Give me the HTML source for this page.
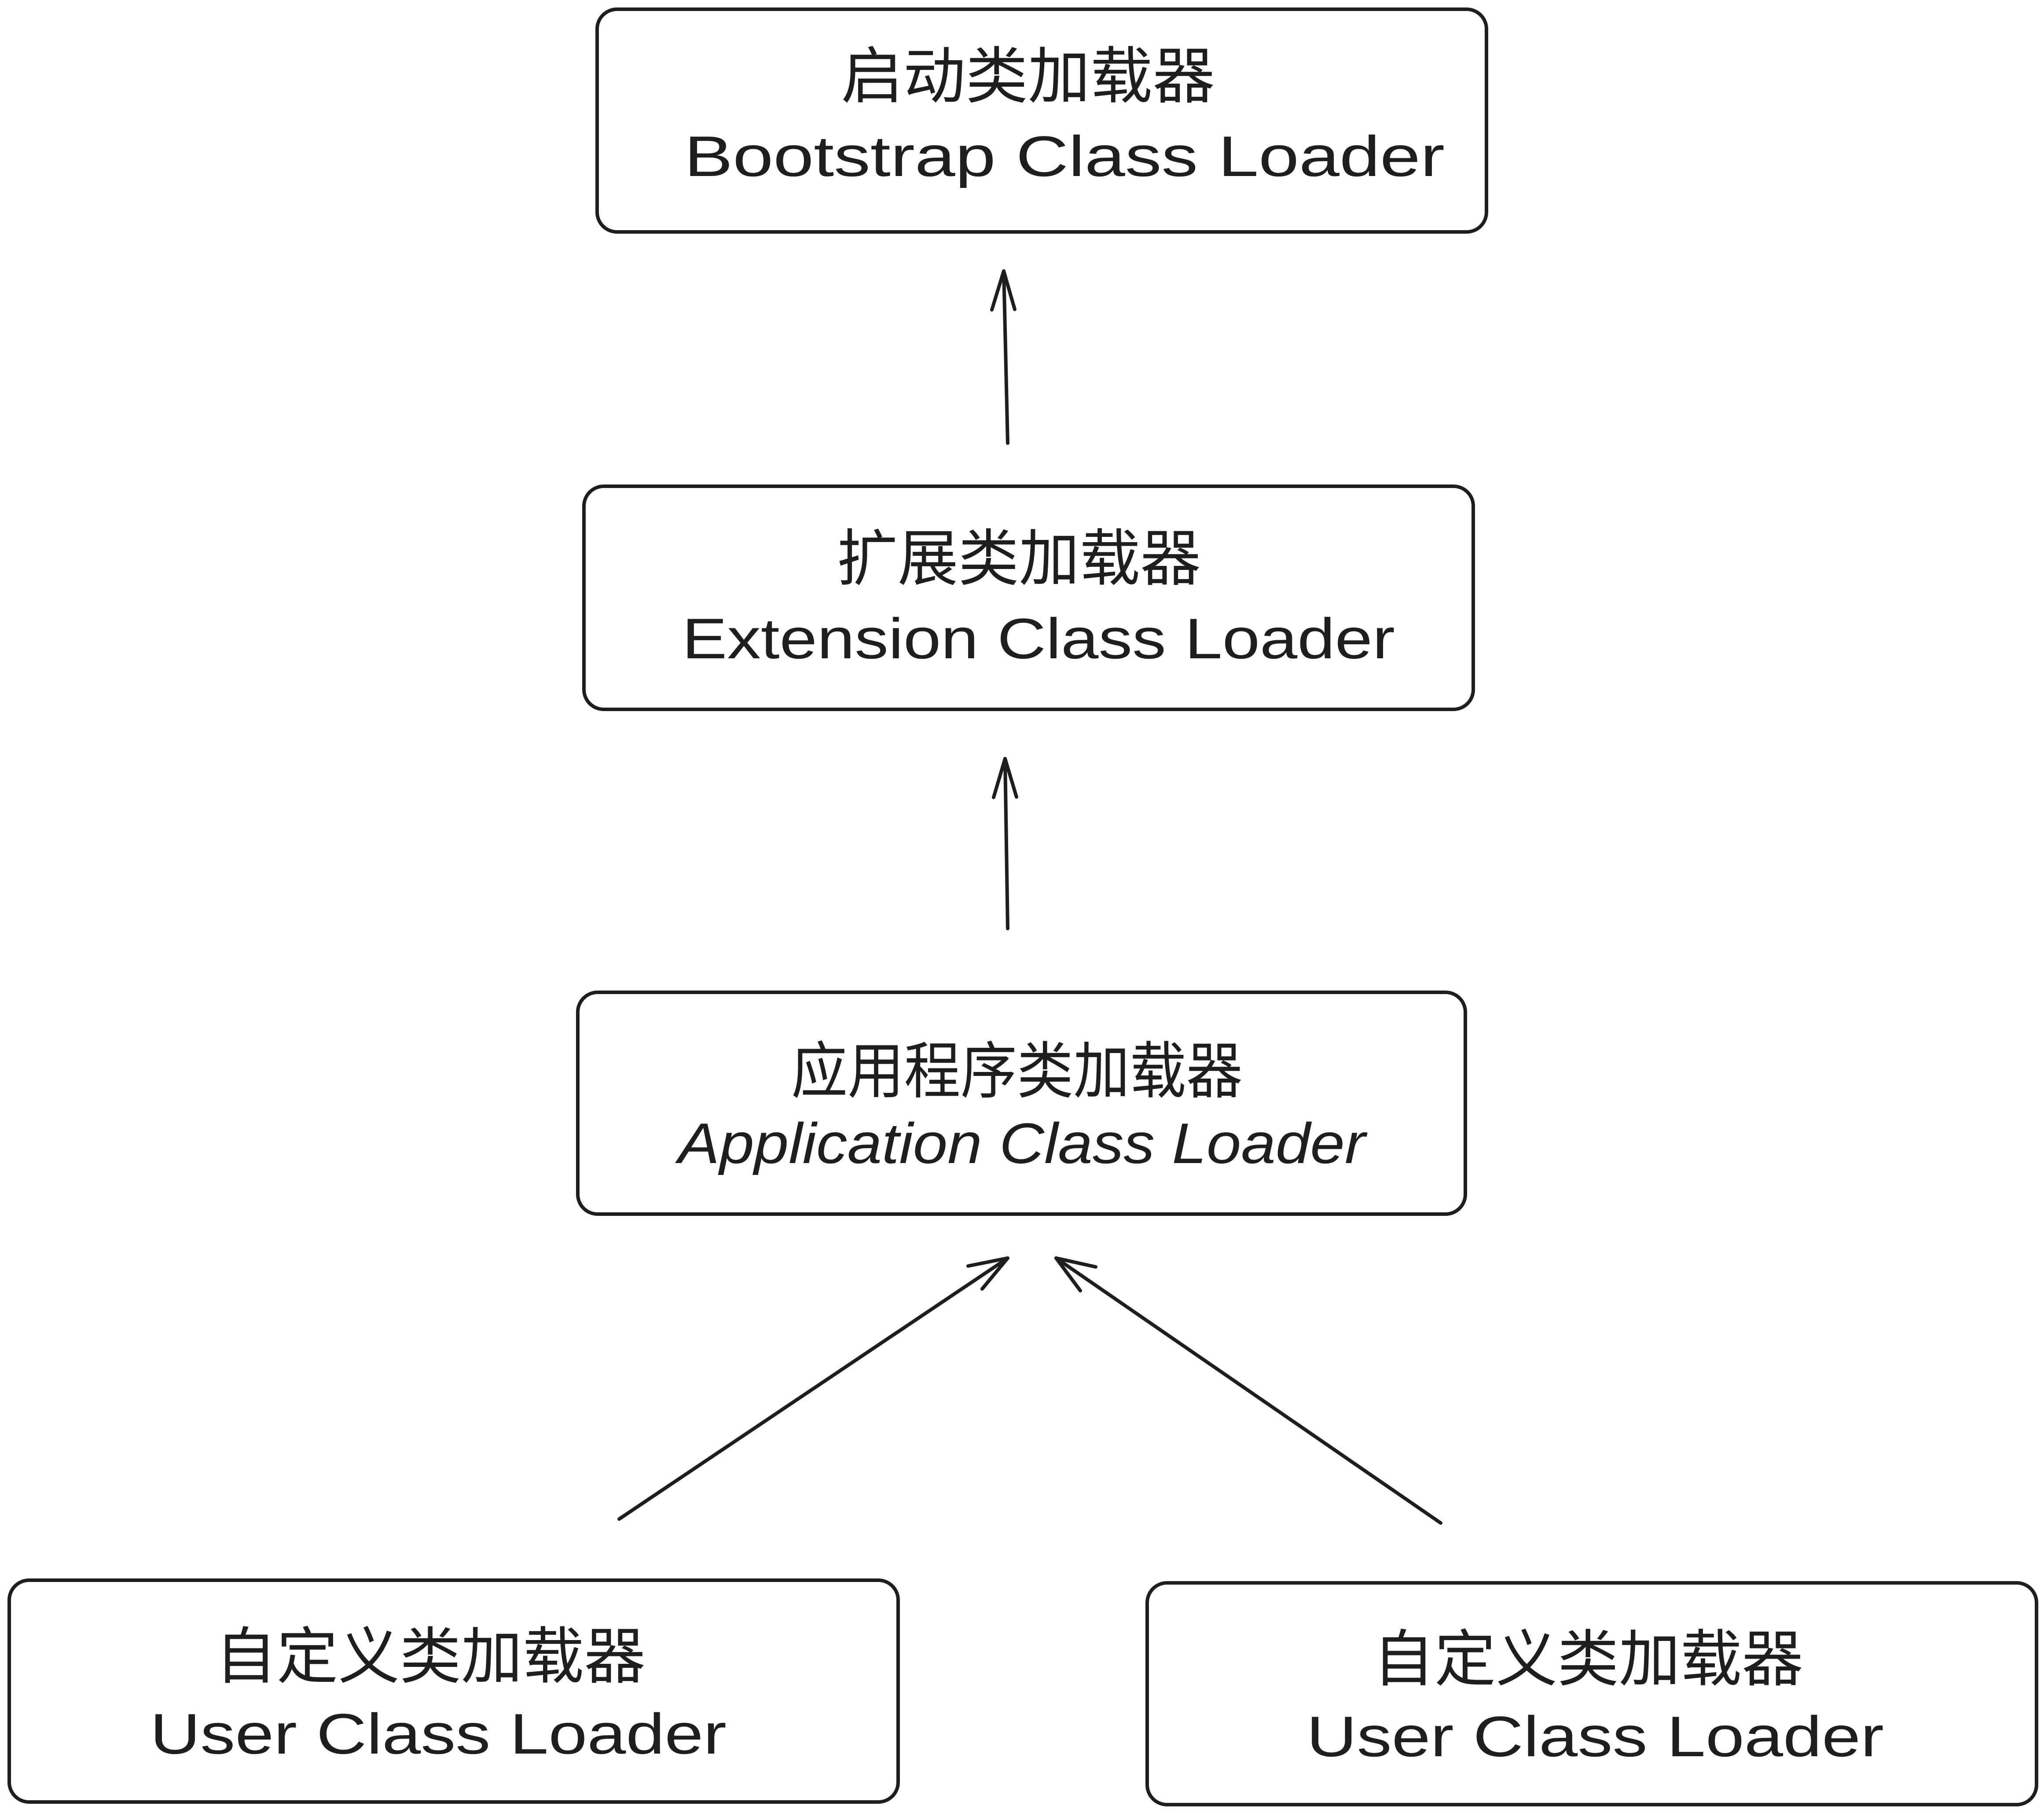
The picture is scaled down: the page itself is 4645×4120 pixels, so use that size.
<!DOCTYPE html>
<html><head><meta charset="utf-8"><style>
html,body{margin:0;padding:0;background:#fff;}
svg{display:block;}
</style></head><body>
<svg width="4645" height="4120" viewBox="0 0 4645 4120" xmlns="http://www.w3.org/2000/svg">
<rect width="4645" height="4120" fill="#fff"/>
<defs>
<marker id="ah" viewBox="0 0 20 20" refX="18" refY="10" markerWidth="12" markerHeight="12" markerUnits="userSpaceOnUse" orient="auto">
</marker>
</defs>
<g fill="none" stroke="#1e1e1e" stroke-width="8" stroke-linecap="round" stroke-linejoin="round">
<rect x="1357" y="21" width="2021" height="506" rx="45"/>
<rect x="1327" y="1105" width="2021" height="507" rx="45"/>
<rect x="1313" y="2255" width="2017" height="504" rx="45"/>
<rect x="21" y="3591" width="2020" height="504" rx="45"/>
<rect x="2607" y="3597" width="2021" height="504" rx="45"/>
<!-- arrows -->
<path d="M2290 1007 L2281 616"/>
<path d="M2254 704 L2281 616 L2306 703"/>
<path d="M2290 2110 L2284 1724"/>
<path d="M2258 1812 L2284 1724 L2310 1811"/>
<path d="M1407 3452 L2290 2859"/>
<path d="M2200 2877 L2290 2859 L2232 2929"/>
<path d="M3274 3461 L2400 2859"/>
<path d="M2455 2933 L2400 2859 L2490 2879"/>
</g>
<g fill="#1e1e1e" font-family="'Liberation Sans','Noto Sans CJK SC',sans-serif">
<text x="1911" y="222" font-size="140" textLength="850" lengthAdjust="spacingAndGlyphs">启动类加载器</text>
<text x="1555" y="400" font-size="130" textLength="1728" lengthAdjust="spacingAndGlyphs">Bootstrap Class Loader</text>
<text x="1902" y="1318" font-size="140" textLength="827" lengthAdjust="spacingAndGlyphs">扩展类加载器</text>
<text x="1550" y="1496" font-size="130" textLength="1620" lengthAdjust="spacingAndGlyphs">Extension Class Loader</text>
<text x="1798" y="2483" font-size="140" textLength="1026" lengthAdjust="spacingAndGlyphs">应用程序类加载器</text>
<text x="1541" y="2643" font-size="130" font-style="italic" textLength="1562" lengthAdjust="spacingAndGlyphs">Application Class Loader</text>
<text x="489" y="3813" font-size="140" textLength="978" lengthAdjust="spacingAndGlyphs">自定义类加载器</text>
<text x="341" y="3985" font-size="130" textLength="1310" lengthAdjust="spacingAndGlyphs">User Class Loader</text>
<text x="3120" y="3819" font-size="140" textLength="978" lengthAdjust="spacingAndGlyphs">自定义类加载器</text>
<text x="2969" y="3991" font-size="130" textLength="1312" lengthAdjust="spacingAndGlyphs">User Class Loader</text>
</g>
</svg>
</body></html>
